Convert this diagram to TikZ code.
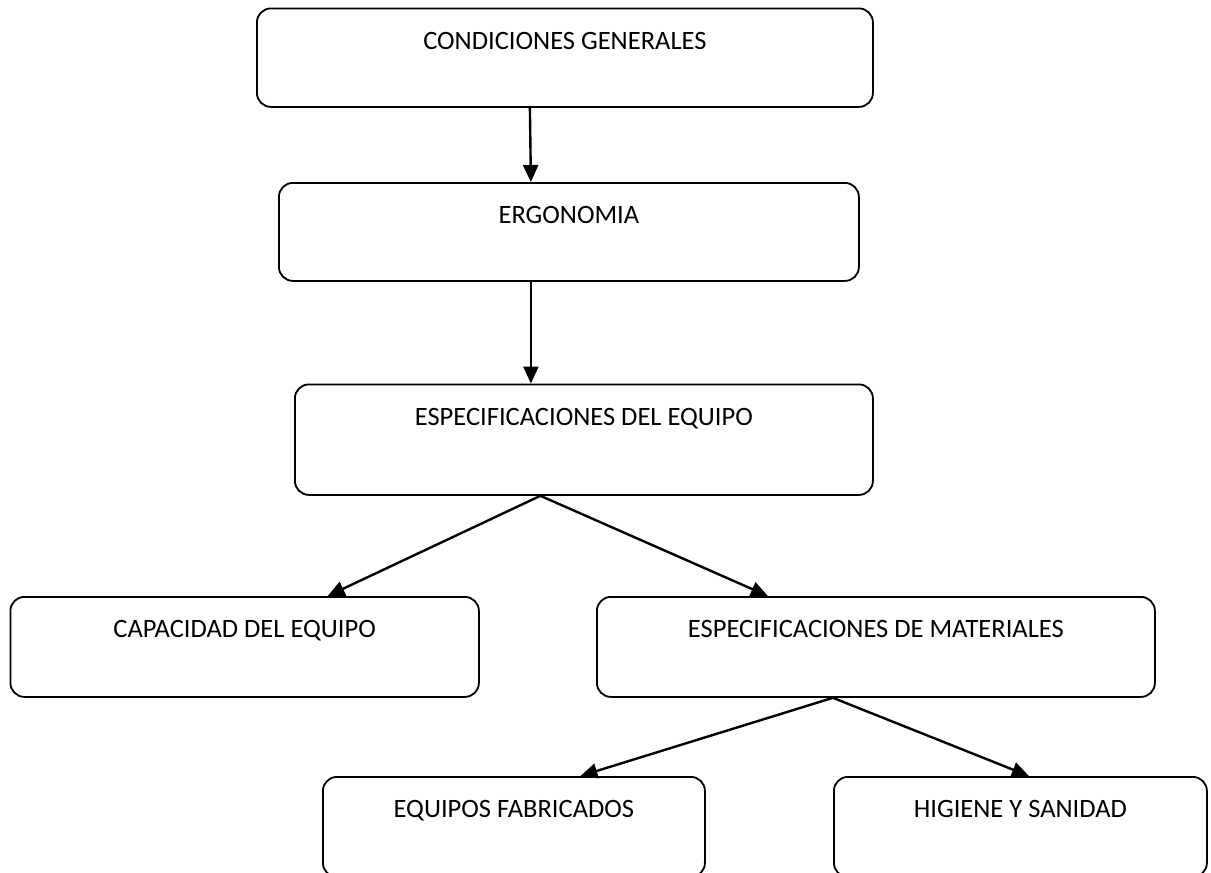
\documentclass[tikz,border=0pt]{standalone}
\usepackage{fontspec}
\setmainfont{Carlito}
\usetikzlibrary{arrows.meta,positioning}
\tikzset{
  caja/.style={draw, rectangle, rounded corners=14pt, anchor=north west, inner xsep=0pt, inner ysep=0pt,
    align=center, line width=1.8pt, text height=41pt, font=\fontsize{26.5pt}{30pt}\selectfont},
  arr/.style={-{Triangle[length=17pt, width=15pt]}, line width=2.4pt},
}
\begin{document}
\begin{tikzpicture}[x=1pt, y=-1pt]
\useasboundingbox (0,0) rectangle (1211,873);

% Nivel 1
\node[caja, minimum width=616pt, text depth=57.5pt] (cond) at (256,7.5) {CONDICIONES GENERALES};

% Nivel 2
\node[caja, minimum width=580pt, text depth=57pt] (ergo) at (278,182) {ERGONOMIA};

% Nivel 3
\node[caja, minimum width=578pt, text depth=69.5pt] (espeq) at (294,383.5) {ESPECIFICACIONES DEL EQUIPO};

% Nivel 4
\node[caja, minimum width=468.5pt, text depth=59pt] (capac) at (9.5,596) {CAPACIDAD DEL EQUIPO};
\node[caja, minimum width=558pt, text depth=59pt] (espmat) at (596,596) {ESPECIFICACIONES DE MATERIALES};

% Nivel 5
\node[caja, minimum width=382pt, text depth=59pt] (fabr) at (322,776) {EQUIPOS FABRICADOS};
\node[caja, minimum width=373pt, text depth=59pt] (hig) at (833,776) {HIGIENE Y SANIDAD};

% Flechas
\draw[arr] ([xshift=-35pt]cond.south) -- ([xshift=-38pt]ergo.north);
\draw[arr] ([xshift=-38pt]ergo.south) -- ([xshift=-53pt]espeq.north);
\draw[arr] ([xshift=-43.5pt]espeq.south) -- ([xshift=83pt]capac.north);
\draw[arr] ([xshift=-43.5pt]espeq.south) -- ([xshift=-108pt]espmat.north);
\draw[arr] ([xshift=-43pt]espmat.south) -- ([xshift=66.5pt]fabr.north);
\draw[arr] ([xshift=-43pt]espmat.south) -- ([xshift=8.5pt]hig.north);

\end{tikzpicture}
\end{document}
